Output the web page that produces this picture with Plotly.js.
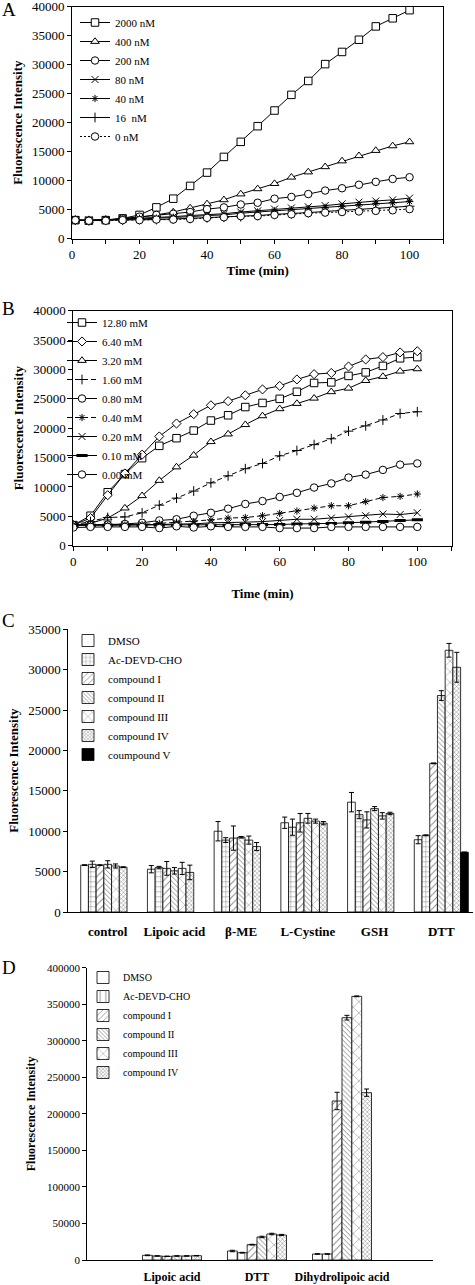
<!DOCTYPE html>
<html><head><meta charset="utf-8">
<script src="https://cdn.plot.ly/plotly-3.0.1.min.js"></script>
<style>html,body{margin:0;padding:0;background:#fff}#chart{width:475px;height:1285px}</style>
</head><body><div id="chart"></div>
<script>
// ---------- Panel A data (Fluorescence vs time, enzyme concentrations) ----------
const timeA = [1,5,10,15,20,25,30,35,40,45,50,55,60,65,70,75,80,85,90,95,100];
const A_2000nM = [3200,3100,3200,3500,4100,5400,6900,9100,11400,14100,16700,19400,22100,24800,27200,30100,32200,34300,36600,38000,39400];
const A_400nM  = [3200,3100,3200,3400,3700,4100,4600,5300,6000,6700,7700,8600,9500,10600,11500,12400,13400,14300,15200,16000,16700];
const A_200nM  = [3200,3100,3200,3500,3800,4100,4300,4600,5100,5400,5900,6200,6900,7200,7700,8300,8700,9300,9800,10300,10600];
const A_80nM   = [3200,3200,3300,3400,3500,3600,3800,4000,4100,4300,4600,4800,5100,5300,5500,5700,6000,6300,6500,6700,7000];
const A_40nM   = [3200,3200,3300,3300,3400,3500,3700,3800,4000,4100,4400,4600,4800,5000,5200,5400,5600,5900,6100,6200,6400];
const A_16nM   = [3200,3100,3200,3200,3300,3300,3400,3500,3600,3700,3800,4000,4200,4300,4500,4700,4900,5000,5200,5400,5600];
const A_0nM    = [3200,3100,3100,3200,3200,3300,3300,3400,3600,3700,3900,3900,4100,4200,4400,4500,4600,4700,4800,4900,5100];
const namesA = ['2000 nM','400 nM','200 nM','80 nM','40 nM','16  nM','0 nM'];

// ---------- Panel B data ----------
const timeB = [0,5,10,15,20,25,30,35,40,45,50,55,60,65,70,75,80,85,90,95,100];
const B_1280 = [3500,5100,9100,12200,14900,17000,18300,19600,21300,22200,23600,24300,25000,26200,27700,27800,28900,29500,30600,31900,32100];
const B_640  = [3500,4700,8600,12300,15500,18600,20800,22400,23900,24600,25600,26600,27200,28300,29200,29400,30500,31700,32100,32900,33100];
const B_320  = [3500,3800,4700,6400,8500,11100,13400,15400,17700,19000,20600,22100,23300,24200,25100,26200,26800,28100,28800,29700,30100];
const B_160  = [3500,4100,4800,4900,5600,6900,8100,9300,10700,11900,13100,14000,15300,16200,17200,18200,19500,20400,21400,22500,22800];
const B_080  = [3500,3500,3600,3700,3900,4300,4500,5100,5600,6300,7100,7600,8300,9000,9900,10600,11600,12100,12900,13800,14000];
const B_040  = [3500,3500,3500,3500,3600,3800,4000,4100,4400,4700,4800,5100,5500,5900,6400,6800,6800,7500,8200,8400,8800];
const B_020  = [3500,3500,3500,3600,3600,3600,3700,3700,3900,3900,4000,4100,4300,4500,4500,4700,4900,5100,5400,5300,5600];
const B_010  = [3500,3500,3500,3500,3500,3500,3500,3500,3500,3500,3600,3600,3600,3700,3700,3800,3900,4000,4100,4300,4400];
const B_000  = [3100,3200,3200,3200,3200,3000,3300,3100,3300,3200,3200,3200,3000,3000,3000,3200,3200,3200,3200,3200,3200];
const namesB = ['12.80 mM','6.40 mM','3.20 mM','1.60 mM','0.80 mM','0.40 mM','0.20 mM','0.10 mM','0.00 mM'];

// ---------- Panel C data ----------
const catsC = ['control','Lipoic acid','β-ME','L-Cystine','GSH','DTT'];
const namesC = ['DMSO','Ac-DEVD-CHO','compound I','compound II','compound III','compound IV','coumpound V'];
const C_DMSO = [5800,5300,10000,11050,13600,8950];
const C_Ac   = [5900,5500,8900,10500,12050,9500];
const C_I    = [5800,5400,9150,11050,11400,18400];
const C_II   = [5900,5100,9250,11600,12800,26800];
const C_III  = [5700,5400,8900,11250,11900,32400];
const C_IV   = [5550,4900,8100,11000,12200,30300];
const C_V    = [null,null,null,null,null,7400];
const C_DMSO_err = [50,450,1200,700,1200,500];
const C_Ac_err   = [400,150,300,1000,500,50];
const C_I_err    = [50,850,1500,1150,1000,50];
const C_II_err   = [450,400,100,600,250,600];
const C_III_err  = [250,750,500,250,400,850];
const C_IV_err   = [50,900,500,200,150,1850];
const C_V_err    = [0,0,0,0,0,0];

// ---------- Panel D data ----------
const catsD = ['Lipoic acid','DTT','Dihydrolipoic acid'];
const namesD = ['DMSO','Ac-DEVD-CHO','compound I','compound II','compound III','compound IV'];
const D_DMSO = [6400,12300,8200];
const D_Ac   = [5500,10000,8200];
const D_I    = [5000,21000,217600];
const D_II   = [5500,31500,331600];
const D_III  = [5500,35600,360800];
const D_IV   = [5900,34200,229000];
const D_DMSO_err = [500,1000,300];
const D_Ac_err   = [300,500,300];
const D_I_err    = [300,500,11900];
const D_II_err   = [300,1000,3200];
const D_III_err  = [300,1000,500];
const D_IV_err   = [300,800,5000];

// ---------- styling helpers ----------
const SERIF = 'Liberation Serif, Times New Roman, serif';
const H = 1285, W = 475;
const py = p => 1 - p / H;   // pixel row -> paper y
const px = p => p / W;       // pixel col -> paper x

function markerSpec(kind) {
  const filled = {square:1, circle:1, 'triangle-up':1, diamond:1};
  if (filled[kind]) return {symbol: kind, size: kind === 'diamond' ? 7 : 7.5, color: 'white', line: {color: 'black', width: 1}};
  if (kind === 'line-ew') return {symbol: kind, size: 8, color: 'black', line: {color: 'black', width: 3}};
  if (kind === 'asterisk') return {symbol: kind, size: 6, color: 'black', line: {color: 'black', width: 1}};
  return {symbol: kind, size: 7, color: 'black', line: {color: 'black', width: 1}};
}
function lineTrace(x, y, name, kind, dash, ax, leg) {
  return {type: 'scatter', mode: 'lines+markers', x: x, y: y, name: name,
    xaxis: 'x' + ax, yaxis: 'y' + ax, legend: leg,
    line: {color: 'black', width: 1, dash: dash}, marker: markerSpec(kind)};
}

const traces = [];
const seriesA = [A_2000nM, A_400nM, A_200nM, A_80nM, A_40nM, A_16nM, A_0nM];
const symA = ['square','triangle-up','circle','x-thin','asterisk','cross-thin','circle'];
const dashA = ['solid','solid','solid','solid','solid','solid','2px,2px'];
seriesA.forEach((s, i) => traces.push(lineTrace(timeA, s, namesA[i], symA[i], dashA[i], '', 'legend')));

const seriesB = [B_1280, B_640, B_320, B_160, B_080, B_040, B_020, B_010, B_000];
const symB = ['square','diamond','triangle-up','cross-thin','circle','asterisk','x-thin','line-ew','circle'];
const dashB = ['solid','solid','solid','5px,3px','solid','5px,3px','solid','solid','solid'];
seriesB.forEach((s, i) => traces.push(lineTrace(timeB, s, namesB[i], symB[i], dashB[i], '2', 'legend2')));

function barTrace(cats, vals, errs, name, pat, i, n, ax, leg) {
  const w = 0.1157;
  const marker = {color: 'white', line: {color: 'black', width: 0.8}};
  if (pat === 'solid') marker.color = 'black';
  else if (pat) marker.pattern = {shape: pat.shape, size: pat.size, solidity: pat.sol, fgcolor: 'black', bgcolor: 'white', fillmode: 'overlay'};
  return {type: 'bar', x: cats, y: vals, name: name, xaxis: 'x' + ax, yaxis: 'y' + ax, legend: leg,
    width: w, offset: -n * w / 2 + i * w, marker: marker,
    error_y: {type: 'data', array: errs, visible: true, color: 'black', thickness: 1, width: 2.5}};
}
const patC = [null, {shape:'+', size:5, sol:0.18}, {shape:'/', size:5, sol:0.18}, {shape:'\\', size:3.5, sol:0.25},
              {shape:'x', size:7.5, sol:0.12}, {shape:'x', size:3, sol:0.3}, 'solid'];
const seriesC = [C_DMSO, C_Ac, C_I, C_II, C_III, C_IV, C_V];
const errC = [C_DMSO_err, C_Ac_err, C_I_err, C_II_err, C_III_err, C_IV_err, C_V_err];
seriesC.forEach((s, i) => traces.push(barTrace(catsC, s, errC[i], namesC[i], patC[i], i, 7, '3', 'legend3')));

const patD = [null, {shape:'|', size:7, sol:0.14}, {shape:'/', size:5, sol:0.18}, {shape:'\\', size:3.5, sol:0.25},
              {shape:'x', size:8, sol:0.12}, {shape:'x', size:3, sol:0.3}];
const seriesD = [D_DMSO, D_Ac, D_I, D_II, D_III, D_IV];
const errD = [D_DMSO_err, D_Ac_err, D_I_err, D_II_err, D_III_err, D_IV_err];
seriesD.forEach((s, i) => traces.push(barTrace(catsD, s, errD[i], namesD[i], patD[i], i, 6, '4', 'legend4')));

const tickF = s => ({family: SERIF, size: s, color: 'black'});
const titleF = s => ({family: SERIF, size: s, color: 'black', weight: 'bold'});
const boxAx = {showline: true, mirror: true, linecolor: 'black', linewidth: 1, showgrid: false, zeroline: false,
  ticks: 'outside', ticklen: 4, tickcolor: 'black', tickwidth: 1, ticklabeloverflow: 'allow'};

const legendBase = (x, y, s) => ({x: px(x), y: py(y), xanchor: 'left', yanchor: 'top', bgcolor: 'rgba(0,0,0,0)',
  font: {family: SERIF, size: s, color: 'black'}, borderwidth: 0, tracegroupgap: 0});

const layout = {
  width: W, height: H, margin: {l: 0, r: 0, t: 0, b: 0},
  paper_bgcolor: 'white', plot_bgcolor: 'white', barmode: 'overlay', showlegend: true,
  font: {family: SERIF, color: 'black'},
  // Panel A
  xaxis: Object.assign({}, boxAx, {domain: [px(72), px(443.3)], anchor: 'y', range: [0, 110], tickvals: [0,20,40,60,80,100],
    minor: {dtick: 10, tick0: 0, ticks: 'outside', ticklen: 4, tickcolor: 'black'},
    tickfont: tickF(13), title: {text: 'Time (min)', font: titleF(13), standoff: 4}}),
  yaxis: Object.assign({}, boxAx, {domain: [py(238.7), py(6.7)], anchor: 'x', range: [0, 40000], dtick: 5000, tickformat: 'd',
    tickfont: tickF(13), title: {text: 'Fluorescence Intensity', font: titleF(13), standoff: 6}}),
  // Panel B
  xaxis2: Object.assign({}, boxAx, {domain: [px(73.3), px(451.7)], anchor: 'y2', range: [0, 110], tickvals: [0,20,40,60,80,100],
    minor: {dtick: 10, tick0: 0, ticks: 'outside', ticklen: 4, tickcolor: 'black'},
    tickfont: tickF(13), title: {text: 'Time (min)', font: titleF(13), standoff: 20}}),
  yaxis2: Object.assign({}, boxAx, {domain: [py(545.7), py(310.7)], anchor: 'x2', range: [0, 40000], dtick: 5000, tickformat: 'd',
    tickfont: tickF(13), title: {text: 'Fluorescence Intensity', font: titleF(13), standoff: 6}}),
  // Panel C
  xaxis3: {domain: [px(68.3), px(473)], anchor: 'y3', type: 'category', categoryarray: catsC, range: [-0.591, 5.475],
    showline: true, linecolor: 'black', linewidth: 1, ticks: '', showgrid: false, zeroline: false, ticklabelstandoff: 7,
    tickfont: {family: SERIF, size: 13, color: 'black', weight: 'bold'}},
  yaxis3: {domain: [py(912), py(629.3)], anchor: 'x3', range: [0, 35000], dtick: 5000, tickformat: 'd',
    showline: true, linecolor: 'black', linewidth: 1, ticks: 'outside', ticklen: 4, tickcolor: 'black', showgrid: false, zeroline: false,
    tickfont: tickF(13), title: {text: 'Fluorescence Intensity', font: titleF(13), standoff: 6}},
  // Panel D
  xaxis4: {domain: [px(87.3), px(432.7)], anchor: 'y4', type: 'category', categoryarray: catsD, range: [-0.996, 3.067],
    showline: true, linecolor: 'black', linewidth: 1, ticks: '', showgrid: false, zeroline: false, ticklabelstandoff: 6,
    tickfont: {family: SERIF, size: 12, color: 'black', weight: 'bold'}},
  yaxis4: {domain: [py(1260), py(967.7)], anchor: 'x4', range: [0, 400000], dtick: 50000, tickformat: 'd',
    showline: true, linecolor: 'black', linewidth: 1, ticks: 'outside', ticklen: 4, tickcolor: 'black', showgrid: false, zeroline: false,
    tickfont: tickF(11), title: {text: 'Fluorescence Intensity', font: titleF(12), standoff: 8}},
  legend:  legendBase(75, 8, 11),
  legend2: legendBase(62, 308, 11),
  legend3: legendBase(68, 626, 11),
  legend4: legendBase(83, 963, 10),
  annotations: [
    {text: 'A', x: 0, y: py(10), xref: 'paper', yref: 'paper', xanchor: 'left', yanchor: 'middle', showarrow: false, font: {family: SERIF, size: 19, color: 'black'}},
    {text: 'B', x: 0, y: py(308), xref: 'paper', yref: 'paper', xanchor: 'left', yanchor: 'middle', showarrow: false, font: {family: SERIF, size: 19, color: 'black'}},
    {text: 'C', x: 0, y: py(620), xref: 'paper', yref: 'paper', xanchor: 'left', yanchor: 'middle', showarrow: false, font: {family: SERIF, size: 19, color: 'black'}},
    {text: 'D', x: 0, y: py(967), xref: 'paper', yref: 'paper', xanchor: 'left', yanchor: 'middle', showarrow: false, font: {family: SERIF, size: 19, color: 'black'}}
  ]
};
Plotly.newPlot('chart', traces, layout, {staticPlot: true, displayModeBar: false});
</script>
</body></html>
